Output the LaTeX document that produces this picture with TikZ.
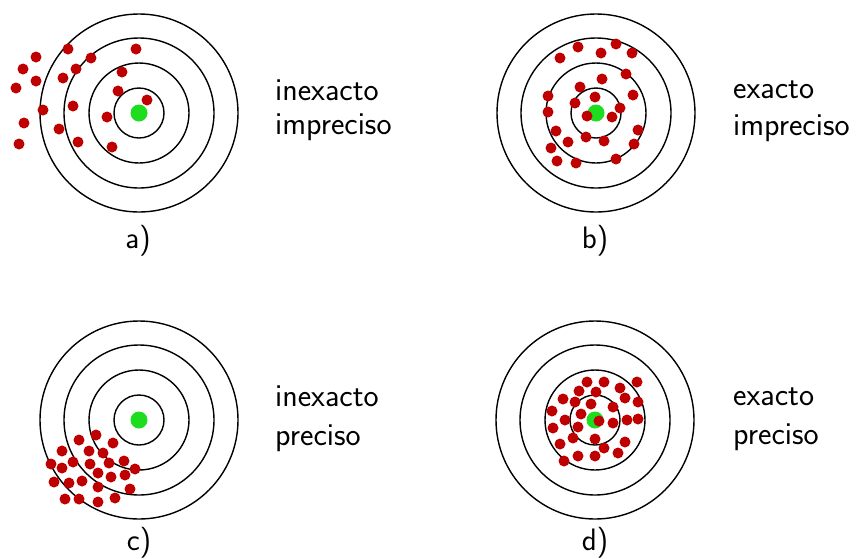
\documentclass[tikz,border=0pt]{standalone}
\usepackage{xcolor}
\usepackage{tikz}
\usetikzlibrary{positioning}
\definecolor{hitcol}{HTML}{BE0000}
\definecolor{bullcol}{HTML}{1EDC1E}

\begin{document}
\begin{tikzpicture}[
  x=1pt, y=-1pt,
  ring/.style={black, line width=1.4pt},
  hit/.style={circle, fill=hitcol, inner sep=0pt, minimum size=11pt},
  bull/.style={circle, fill=bullcol, inner sep=0pt, minimum size=17pt},
  lbl/.style={anchor=base west, font=\sffamily\fontsize{32}{38}\selectfont, inner sep=0pt},
  tag/.style={font=\sffamily\fontsize{31}{37}\selectfont, inner sep=0pt}
]
\useasboundingbox (0,0) rectangle (862,558);

% targets
\foreach \cx/\cy [count=\t] in {139/113, 596/113, 139/420, 595/420} {
  \foreach \r in {25,50,75,99}
    \draw[ring] (\cx,\cy) circle[radius=\r];
  \node[bull] (bull\t) at (\cx,\cy) {};
}

% a) inexacto, impreciso
\foreach \x/\y [count=\i] in {68/49, 36/57, 91/58, 136/49, 23/69, 76/69, 122/72, 63/78,
  36/81, 16/88, 118/91, 147/100, 43/110, 73/106, 107/117, 24/123, 59/129, 78/142,
  112/147, 19/144}
  \node[hit] (hitA\i) at (\x,\y) {};

% b) exacto, impreciso
\foreach \x/\y [count=\i] in {578/47, 616/44, 601/53, 632/53, 560/58, 626/74, 602/79,
  580/87, 548/96, 595/97, 633/95, 575/103, 620/108, 548/112, 587/116, 612/117,
  556/131, 638/130, 586/137, 604/141, 568/142, 551/148, 634/144, 557/161, 576/163,
  616/159}
  \node[hit] (hitB\i) at (\x,\y) {};

% c) inexacto, preciso
\foreach \x/\y [count=\i] in {96/435, 79/440, 113/443, 62/451, 89/451, 103/453, 73/462,
  124/461, 51/464, 90/464, 109/463, 62/468, 135/469, 98/473, 111/477, 125/475,
  54/482, 69/483, 82/481, 98/487, 130/489, 65/499, 79/499, 98/502, 115/498}
  \node[hit] (hitC\i) at (\x,\y) {};

% d) exacto, preciso
\foreach \x/\y [count=\i] in {587/382, 604/382, 637/382, 579/391, 596/392, 620/388,
  563/399, 575/402, 591/404, 625/398, 638/402, 552/411, 613/407, 581/414, 565/420,
  599/421, 613/423, 627/420, 638/419, 578/427, 553/428, 573/438, 595/439, 560/444,
  625/442, 604/448, 618/453, 578/456, 595/456, 564/461}
  \node[hit] (hitD\i) at (\x,\y) {};

% labels
\node[lbl] (txtA1) at (275,100) {inexacto};
\node[lbl] (txtA2) at (275,134) {impreciso};
\node[lbl] (txtB1) at (733,98) {exacto};
\node[lbl] (txtB2) at (733,135) {impreciso};
\node[lbl] (txtC1) at (275,406) {inexacto};
\node[lbl] (txtC2) at (275,445) {preciso};
\node[lbl] (txtD1) at (733,405) {exacto};
\node[lbl] (txtD2) at (733,444) {preciso};

\node[tag] (tagA) at (138,241) {a)};
\node[tag] (tagB) at (595,241) {b)};
\node[tag] (tagC) at (139,543) {c)};
\node[tag] (tagD) at (595,543) {d)};
\end{tikzpicture}
\end{document}
